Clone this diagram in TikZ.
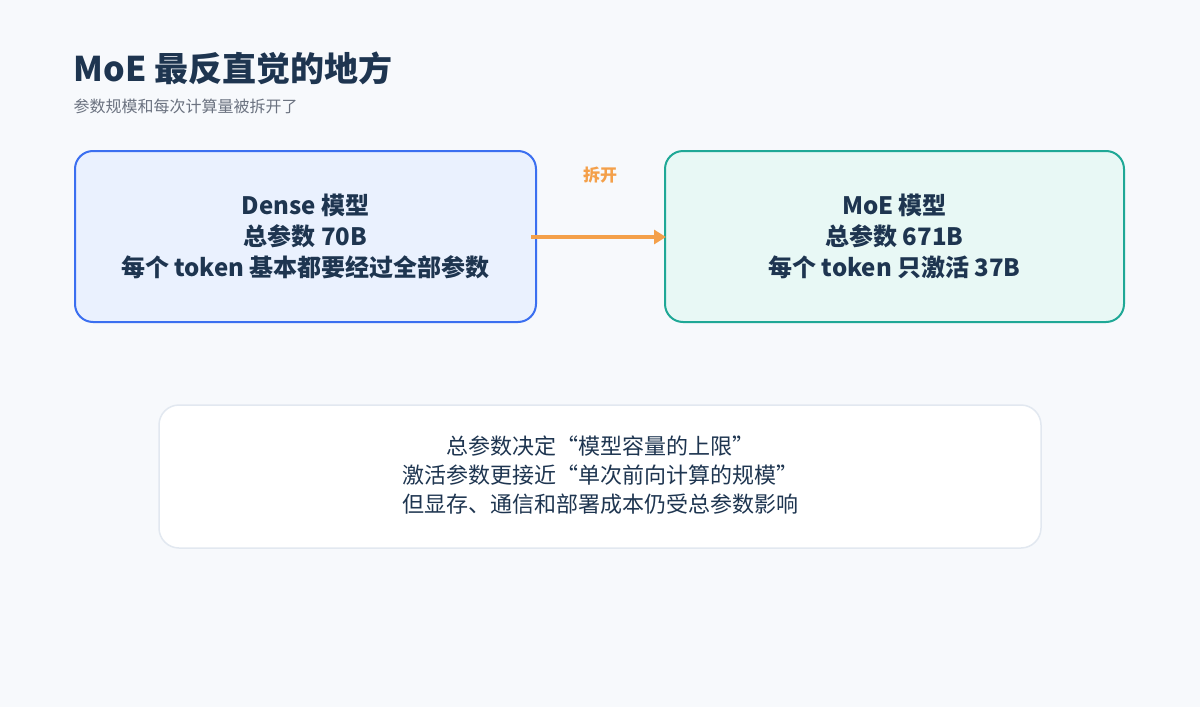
\documentclass[tikz,border=0pt]{standalone}
\usepackage{fontspec}
\setmainfont{Noto Sans CJK SC}
\usetikzlibrary{arrows.meta}
\definecolor{bg}{HTML}{F7F9FC}
\definecolor{navy}{HTML}{1E3550}
\definecolor{sub}{HTML}{6B7280}
\definecolor{bfill}{HTML}{EAF1FE}
\definecolor{bline}{HTML}{3B6FF0}
\definecolor{gfill}{HTML}{E8F8F5}
\definecolor{gline}{HTML}{1FA896}
\definecolor{org}{HTML}{F4A04A}
\definecolor{wline}{HTML}{E2E8F0}
\begin{document}
\begin{tikzpicture}[x=1pt,y=-1pt,
  box/.style={rounded corners=18pt,line width=2pt},
  bt/.style={font=\fontsize{24}{31}\selectfont\bfseries,text=navy,align=center}]
\useasboundingbox (0,0) rectangle (1200,707);
\fill[bg] (0,0) rectangle (1200,707);
\node[anchor=west,font=\fontsize{34}{40}\selectfont\bfseries,text=navy] (title) at (70,68) {MoE 最反直觉的地方};
\node[anchor=west,font=\fontsize{16}{20}\selectfont,text=sub] (subt) at (70,106) {参数规模和每次计算量被拆开了};
\draw[box,draw=bline,fill=bfill] (75,151) rectangle (536,322);
\node[bt] (d) at (305.5,236) {Dense 模型\\总参数 70B\\每个 token 基本都要经过全部参数};
\draw[box,draw=gline,fill=gfill] (665,151) rectangle (1124,322);
\node[bt] (m) at (894.5,236) {MoE 模型\\总参数 671B\\每个 token 只激活 37B};
\coordinate (a1) at (531,237);
\coordinate (a2) at (666,237);
\draw[org,line width=4pt,-{Triangle[length=12pt,width=14pt]}] (a1) -- (a2);
\node[font=\fontsize{17}{20}\selectfont\bfseries,text=org] (lbl) at (600,175) {拆开};
\draw[rounded corners=20pt,draw=wline,fill=white,line width=1.5pt] (159,405) rectangle (1041,548);
\node[font=\fontsize{22}{29}\selectfont,text=navy,align=center] (t) at (600,475) {总参数决定“模型容量的上限”\\激活参数更接近“单次前向计算的规模”\\但显存、通信和部署成本仍受总参数影响};
\end{tikzpicture}
\end{document}
